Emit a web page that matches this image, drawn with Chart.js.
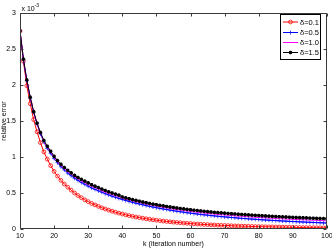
<!DOCTYPE html>
<html>
<head>
<meta charset="utf-8">
<script src="https://cdn.jsdelivr.net/npm/chart.js@4.4.1/dist/chart.umd.min.js"></script>
<style>
html,body{margin:0;padding:0;background:#fff;}
#c{display:block;}
</style>
</head>
<body>
<canvas id="c" width="332" height="251"></canvas>
<script>
// iteration number k
const kValues = [10,11,12,13,14,15,16,17,18,19,20,21,22,23,24,25,26,27,28,29,30,31,32,33,34,35,36,37,38,39,40,41,42,43,44,45,46,47,48,49,50,51,52,53,54,55,56,57,58,59,60,61,62,63,64,65,66,67,68,69,70,71,72,73,74,75,76,77,78,79,80,81,82,83,84,85,86,87,88,89,90,91,92,93,94,95,96,97,98,99,100];

// relative error, in units of 1e-3
const delta01 = [2.75,2.33,1.99,1.74,1.52,1.35,1.20,1.07,0.97,0.88,0.80,0.735,0.675,0.625,0.58,0.54,0.50,0.465,0.435,0.405,0.38,0.355,0.335,0.315,0.295,0.278,0.262,0.247,0.233,0.22,0.208,0.197,0.186,0.176,0.167,0.158,0.15,0.142,0.135,0.128,0.122,0.116,0.11,0.105,0.1,0.095,0.091,0.087,0.083,0.079,0.076,0.072,0.069,0.066,0.063,0.061,0.058,0.056,0.053,0.051,0.049,0.047,0.045,0.043,0.042,0.04,0.039,0.037,0.036,0.034,0.033,0.032,0.031,0.03,0.029,0.028,0.027,0.026,0.025,0.024,0.023,0.022,0.021,0.02,0.019,0.019,0.018,0.017,0.017,0.016,0.015];

const delta05 = [2.75,2.35,2.06,1.82,1.62,1.46,1.32,1.21,1.12,1.05,0.98,0.92,0.865,0.82,0.775,0.74,0.705,0.675,0.645,0.62,0.595,0.57,0.55,0.53,0.51,0.49,0.473,0.456,0.44,0.425,0.41,0.396,0.383,0.37,0.358,0.347,0.336,0.325,0.315,0.305,0.296,0.287,0.278,0.27,0.262,0.254,0.247,0.24,0.233,0.226,0.22,0.214,0.208,0.202,0.197,0.192,0.187,0.182,0.177,0.173,0.168,0.164,0.16,0.156,0.152,0.148,0.145,0.141,0.138,0.135,0.131,0.128,0.125,0.122,0.119,0.117,0.114,0.111,0.109,0.106,0.104,0.102,0.099,0.097,0.095,0.093,0.091,0.089,0.087,0.085,0.083];

const delta10 = [2.75,2.355,2.065,1.825,1.625,1.465,1.33,1.22,1.135,1.065,0.995,0.935,0.882,0.838,0.795,0.76,0.725,0.695,0.667,0.642,0.617,0.592,0.572,0.552,0.532,0.512,0.494,0.478,0.462,0.447,0.43,0.416,0.403,0.391,0.38,0.369,0.358,0.347,0.337,0.328,0.318,0.31,0.301,0.293,0.285,0.277,0.27,0.263,0.257,0.25,0.244,0.238,0.232,0.227,0.222,0.217,0.212,0.207,0.203,0.199,0.195,0.191,0.187,0.183,0.179,0.176,0.173,0.169,0.166,0.163,0.16,0.157,0.154,0.151,0.148,0.146,0.143,0.141,0.139,0.136,0.134,0.132,0.13,0.128,0.126,0.124,0.122,0.12,0.118,0.116,0.114];

const delta15 = [2.75,2.36,2.07,1.83,1.63,1.47,1.34,1.23,1.15,1.08,1.01,0.95,0.90,0.855,0.815,0.78,0.745,0.715,0.69,0.665,0.64,0.615,0.595,0.575,0.555,0.535,0.515,0.50,0.485,0.47,0.445,0.432,0.42,0.408,0.397,0.386,0.375,0.365,0.355,0.346,0.337,0.329,0.321,0.313,0.306,0.299,0.292,0.285,0.279,0.273,0.267,0.261,0.256,0.251,0.246,0.241,0.236,0.232,0.228,0.224,0.22,0.216,0.212,0.209,0.205,0.202,0.199,0.196,0.193,0.19,0.187,0.184,0.181,0.179,0.176,0.174,0.171,0.169,0.167,0.164,0.162,0.16,0.158,0.156,0.154,0.152,0.15,0.148,0.146,0.145,0.143];

const seriesLabels = ['δ=0.1','δ=0.5','δ=1.0','δ=1.5'];
const xTicks = [10,20,30,40,50,60,70,80,90,100];
const yTicks = [0,0.5,1,1.5,2,2.5,3];

const FONT = 'Liberation Sans, Arial, Helvetica, sans-serif';

function pts(arr){ return kValues.map((k,i)=>({x:k,y:arr[i]})); }

const frame = {
  id:'frame',
  afterDraw(chart){
    const ctx = chart.ctx, ca = chart.chartArea;
    const xs = chart.scales.x, ys = chart.scales.y;
    ctx.save();
    ctx.strokeStyle = '#3a3a3a';
    ctx.lineWidth = 1;
    const L = Math.round(ca.left)+0.5, R = Math.round(ca.right)-0.5;
    const T = Math.round(ca.top)+0.5, B = Math.round(ca.bottom)-0.5;
    ctx.beginPath();
    ctx.rect(L, T, R-L, B-T);
    ctx.stroke();
    ctx.beginPath();
    xTicks.forEach(v=>{
      const p = Math.round(xs.getPixelForValue(v))+0.5;
      ctx.moveTo(p,B); ctx.lineTo(p,B-3);
      ctx.moveTo(p,T); ctx.lineTo(p,T+3);
    });
    yTicks.forEach(v=>{
      const p = Math.round(ys.getPixelForValue(v))+0.5;
      ctx.moveTo(L,p); ctx.lineTo(L+3,p);
      ctx.moveTo(R,p); ctx.lineTo(R-3,p);
    });
    ctx.stroke();
    // exponent label
    ctx.fillStyle = '#000';
    ctx.textBaseline = 'alphabetic';
    ctx.textAlign = 'left';
    ctx.font = '7px ' + FONT;
    ctx.fillText('x 10', L+1, T-3);
    ctx.font = '5px ' + FONT;
    ctx.fillText('-3', L+14, T-7);
    // legend
    const lx = 280.5, ly = 14.5, lw = 40, lh = 45;
    ctx.fillStyle = '#fff';
    ctx.fillRect(lx, ly, lw, lh);
    ctx.strokeStyle = '#000';
    ctx.lineWidth = 1;
    ctx.strokeRect(lx, ly, lw, lh);
    const rows = [22, 32.5, 42.5, 52.5];
    chart.data.datasets.forEach((ds,i)=>{
      const y = rows[i];
      ctx.strokeStyle = ds.borderColor;
      ctx.lineWidth = 1;
      ctx.beginPath();
      ctx.moveTo(283, y); ctx.lineTo(298, y);
      ctx.stroke();
      if (ds.pointRadius > 0) {
        ctx.fillStyle = ds.pointBackgroundColor;
        ctx.strokeStyle = ds.pointBorderColor;
        ctx.lineWidth = ds.pointBorderWidth;
        Chart.helpers.drawPoint(ctx, {
          pointStyle: ds.pointStyle, radius: ds.pointRadius, borderWidth: ds.pointBorderWidth, rotation: 0
        }, 290.5, y);
      }
      ctx.fillStyle = '#000';
      ctx.font = '7.5px ' + FONT;
      ctx.textBaseline = 'middle';
      ctx.textAlign = 'left';
      ctx.fillText(ds.label, 300, y+0.5);
    });
    ctx.restore();
  }
};

new Chart(document.getElementById('c'), {
  type:'line',
  data:{
    datasets:[
      {label:seriesLabels[0], data:pts(delta01), borderColor:'#ff0000', borderWidth:1,
       pointStyle:'circle', pointRadius:1.9, pointBorderWidth:0.8, pointBorderColor:'#ff0000', pointBackgroundColor:'rgba(255,255,255,0)', order:4},
      {label:seriesLabels[1], data:pts(delta05), borderColor:'#0000ff', borderWidth:1,
       pointStyle:'cross', pointRadius:2, pointBorderWidth:0.7, pointBorderColor:'#0000ff', pointBackgroundColor:'#0000ff', order:3},
      {label:seriesLabels[2], data:pts(delta10), borderColor:'#ff00ff', borderWidth:1,
       pointRadius:0, pointBorderColor:'#ff00ff', pointBackgroundColor:'#ff00ff', order:2},
      {label:seriesLabels[3], data:pts(delta15), borderColor:'#000000', borderWidth:1,
       pointStyle:'star', pointRadius:1.8, pointBorderWidth:1.1, pointBorderColor:'#000000', pointBackgroundColor:'#000000', order:1}
    ]
  },
  options:{
    responsive:false,
    animation:false,
    devicePixelRatio:1,
    layout:{padding:{top:13,right:5,left:0,bottom:0}},
    plugins:{legend:{display:false}, tooltip:{enabled:false}},
    scales:{
      x:{type:'linear', min:10, max:100,
        ticks:{stepSize:10, color:'#000', font:{family:FONT,size:7}, padding:3, maxRotation:0, autoSkip:false,
               callback:(v)=>String(v)},
        grid:{display:false, drawTicks:false, tickLength:0}, border:{display:false},
        title:{display:true, text:'k (iteration number)', color:'#000', font:{family:FONT,size:7}, padding:{top:0,bottom:3}},
        afterFit(s){ s.height = 22; s.paddingLeft = 0; s.paddingRight = 0; }
      },
      y:{type:'linear', min:0, max:3,
        ticks:{stepSize:0.5, color:'#000', font:{family:FONT,size:7}, padding:4,
               callback:(v)=>String(v)},
        grid:{display:false, drawTicks:false, tickLength:0}, border:{display:false},
        title:{display:true, text:'relative error', color:'#000', font:{family:FONT,size:7}, padding:{top:0,bottom:0}},
        afterFit(s){ s.width = 20; s.paddingTop = 0; s.paddingBottom = 0; }
      }
    }
  },
  plugins:[frame]
});
</script>
</body>
</html>
